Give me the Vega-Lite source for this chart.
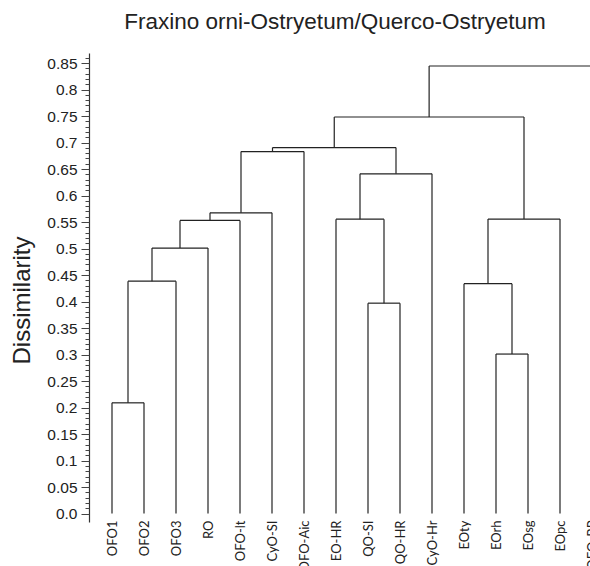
{
  "$schema": "https://vega.github.io/schema/vega-lite/v6.json",
  "autosize": "none",
  "width": 501,
  "height": 469,
  "padding": {"left": 89, "top": 53, "right": 0, "bottom": 44},
  "background": "white",
  "title": {
    "text": "Fraxino orni-Ostryetum/Querco-Ostryetum",
    "font": "Liberation Sans",
    "fontSize": 22.5,
    "fontWeight": "normal",
    "color": "#222222",
    "anchor": "middle",
    "dx": -4.5,
    "offset": 20
  },
  "config": {"view": {"stroke": null}},
  "data": {
    "values": [
      {"node": "A", "x1": 0, "x2": 1, "h1": 0, "h2": 0, "h": 0.209},
      {"node": "B", "x1": 0.5, "x2": 2, "h1": 0.209, "h2": 0, "h": 0.4385},
      {"node": "C", "x1": 1.25, "x2": 3, "h1": 0.4385, "h2": 0, "h": 0.501},
      {"node": "D", "x1": 2.125, "x2": 4, "h1": 0.501, "h2": 0, "h": 0.553},
      {"node": "E", "x1": 3.0625, "x2": 5, "h1": 0.553, "h2": 0, "h": 0.5675},
      {"node": "F", "x1": 4.03125, "x2": 6, "h1": 0.5675, "h2": 0, "h": 0.683},
      {"node": "G", "x1": 8, "x2": 9, "h1": 0, "h2": 0, "h": 0.397},
      {"node": "H", "x1": 7, "x2": 8.5, "h1": 0, "h2": 0.397, "h": 0.5555},
      {"node": "I", "x1": 7.75, "x2": 10, "h1": 0.5555, "h2": 0, "h": 0.641},
      {"node": "J", "x1": 5.015625, "x2": 8.875, "h1": 0.683, "h2": 0.641, "h": 0.6905},
      {"node": "K", "x1": 12, "x2": 13, "h1": 0, "h2": 0, "h": 0.301},
      {"node": "L", "x1": 11, "x2": 12.5, "h1": 0, "h2": 0.301, "h": 0.4338},
      {"node": "M", "x1": 11.75, "x2": 14, "h1": 0.4338, "h2": 0, "h": 0.5557},
      {"node": "N", "x1": 6.9453125, "x2": 12.875, "h1": 0.6905, "h2": 0.5557, "h": 0.7482},
      {"node": "O", "x1": 9.91015625, "x2": 15, "h1": 0.7482, "h2": 0, "h": 0.8444}
    ]
  },
  "resolve": {"axis": {"y": "independent", "x": "independent"}},
  "layer": [
    {
      "mark": {"type": "rule", "color": "#222222", "strokeWidth": 1.2},
      "encoding": {
        "x": {
          "field": "x1", "type": "quantitative",
          "scale": {"domain": [-0.71875, 15], "range": [0, 503], "nice": false, "zero": false},
          "axis": {
            "values": [0, 1, 2, 3, 4, 5, 6, 7, 8, 9, 10, 11, 12, 13, 14, 15],
            "labelExpr": "['OFO1','OFO2','OFO3','RO','OFO-lt','CyO-SI','OFO-Aic','EO-HR','QO-SI','QO-HR','CyO-Hr','EOty','EOrh','EOsg','EOpc','OFO-BP'][datum.value]",
            "labelAngle": -90,
            "labelAlign": "right",
            "labelBaseline": "middle",
            "labelFont": "Lato",
            "labelFontSize": 13,
            "labelColor": "#222222",
            "labelPadding": -2,
            "labelOverlap": false,
            "labelBound": false,
            "ticks": false,
            "domain": false,
            "grid": false,
            "title": null
          }
        },
        "x2": {"field": "x2"},
        "y": {
          "field": "h", "type": "quantitative",
          "scale": {"domain": [-0.0158, 0.8689], "nice": false, "zero": false},
          "axis": {
            "values": [0, 0.05, 0.1, 0.15, 0.2, 0.25, 0.3, 0.35, 0.4, 0.45, 0.5, 0.55, 0.6, 0.65, 0.7, 0.75, 0.8, 0.85],
            "labelExpr": "datum.value == 0 ? '0.0' : '' + datum.value",
            "labelFont": "Liberation Sans",
            "labelFontSize": 15.5,
            "labelColor": "#222222",
            "labelPadding": 4,
            "tickSize": 8,
            "tickColor": "#444444",
            "domainColor": "#333333",
            "domainWidth": 1.2,
            "grid": false,
            "orient": "left",
            "title": "Dissimilarity",
            "titleFont": "Liberation Sans",
            "titleFontSize": 24,
            "titleFontWeight": "normal",
            "titleColor": "#222222",
            "titlePadding": 12,
            "titleY": 247
          }
        }
      }
    },
    {
      "mark": {"type": "rule", "color": "#222222", "strokeWidth": 1.2},
      "encoding": {
        "x": {"field": "x1", "type": "quantitative", "axis": null},
        "y": {
          "field": "h1", "type": "quantitative",
          "axis": {
            "values": [0, 0.01, 0.02, 0.03, 0.04, 0.05, 0.06, 0.07, 0.08, 0.09, 0.1, 0.11, 0.12, 0.13, 0.14, 0.15, 0.16, 0.17, 0.18, 0.19, 0.2, 0.21, 0.22, 0.23, 0.24, 0.25, 0.26, 0.27, 0.28, 0.29, 0.3, 0.31, 0.32, 0.33, 0.34, 0.35, 0.36, 0.37, 0.38, 0.39, 0.4, 0.41, 0.42, 0.43, 0.44, 0.45, 0.46, 0.47, 0.48, 0.49, 0.5, 0.51, 0.52, 0.53, 0.54, 0.55, 0.56, 0.57, 0.58, 0.59, 0.6, 0.61, 0.62, 0.63, 0.64, 0.65, 0.66, 0.67, 0.68, 0.69, 0.7, 0.71, 0.72, 0.73, 0.74, 0.75, 0.76, 0.77, 0.78, 0.79, 0.8, 0.81, 0.82, 0.83, 0.84, 0.85, 0.86],
            "labels": false,
            "tickSize": 4,
            "tickColor": "#444444",
            "domain": false,
            "grid": false,
            "orient": "left",
            "title": null
          }
        },
        "y2": {"field": "h"}
      }
    },
    {
      "mark": {"type": "rule", "color": "#222222", "strokeWidth": 1.2},
      "encoding": {
        "x": {"field": "x2", "type": "quantitative", "axis": null},
        "y": {"field": "h2", "type": "quantitative", "axis": null},
        "y2": {"field": "h"}
      }
    }
  ]
}
